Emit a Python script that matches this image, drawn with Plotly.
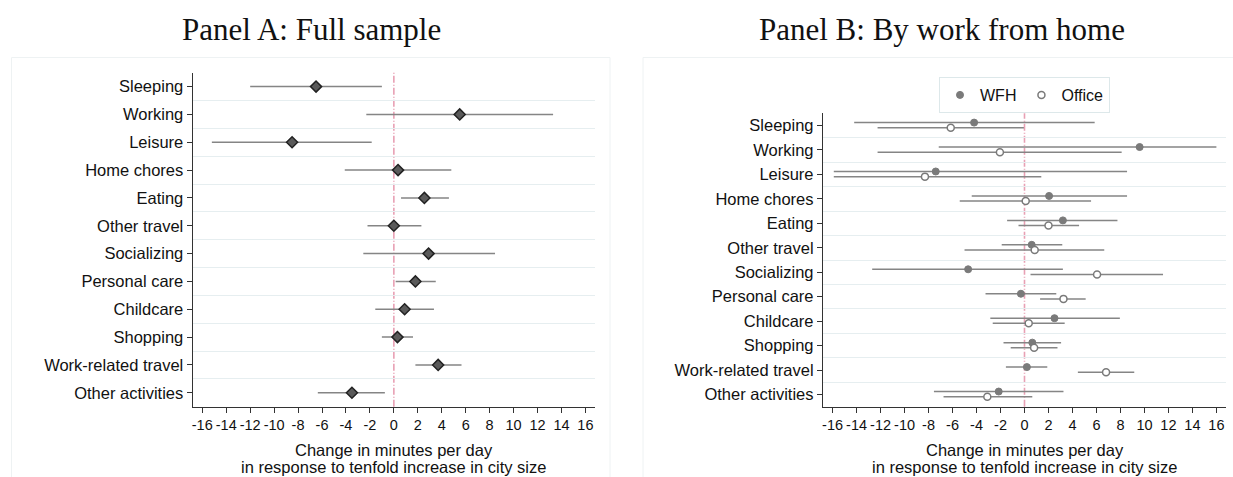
import plotly.graph_objects as go

W, H = 1233, 477

categories = ["Sleeping", "Working", "Leisure", "Home chores", "Eating", "Other travel",
              "Socializing", "Personal care", "Childcare", "Shopping",
              "Work-related travel", "Other activities"]

# Panel A: full sample
est_a = [-6.5, 5.5, -8.5, 0.35, 2.55, 0.0, 2.9, 1.8, 0.9, 0.3, 3.7, -3.5]
lo_a = [-12.0, -2.3, -15.2, -4.1, 0.6, -2.2, -2.55, 0.15, -1.55, -1.0, 1.8, -6.35]
hi_a = [-1.0, 13.3, -1.85, 4.8, 4.6, 2.3, 8.45, 3.5, 3.35, 1.6, 5.65, -0.75]

# Panel B: WFH
est_w = [-4.2, 9.6, -7.4, 2.05, 3.2, 0.6, -4.7, -0.3, 2.5, 0.65, 0.2, -2.15]
lo_w = [-14.2, -7.15, -15.9, -4.4, -1.45, -1.9, -12.7, -3.25, -2.85, -1.75, -1.55, -7.55]
hi_w = [5.85, 16.0, 8.55, 8.55, 7.75, 3.15, 3.2, 2.65, 7.95, 3.05, 1.9, 3.25]

# Panel B: Office
est_o = [-6.15, -2.05, -8.3, 0.1, 2.0, 0.85, 6.05, 3.25, 0.35, 0.8, 6.8, -3.1]
lo_o = [-12.25, -12.25, -15.9, -5.4, -0.5, -5.0, 0.5, 1.3, -2.65, -1.15, 4.45, -6.75]
hi_o = [-0.05, 8.1, 1.4, 5.55, 4.55, 6.65, 11.55, 5.1, 3.35, 2.75, 9.15, 0.65]

xticks = list(range(-16, 17, 2))

SANS = "Liberation Sans, Arial, sans-serif"
SERIF = "Liberation Serif, Times New Roman, serif"
CI_COLOR = "#858585"
GRID = "#e6eef0"
AXIS = "#333333"
PINK = "#e8a0b4"

pos = list(range(1, len(categories) + 1))


def px_x(p):
    return p / W


def px_y(p):
    return 1 - p / H


fig = go.Figure()

# Panel A
fig.add_trace(go.Scatter(
    x=est_a, y=pos, mode="markers", xaxis="x", yaxis="y", showlegend=False,
    marker=dict(symbol="diamond", size=8.5, color="#5a5a5a", line=dict(color="#222222", width=1.5)),
    error_x=dict(type="data", symmetric=False,
                 array=[h - e for h, e in zip(hi_a, est_a)],
                 arrayminus=[e - l for e, l in zip(est_a, lo_a)],
                 color=CI_COLOR, thickness=1.5, width=0),
))

off_w, off_o = -0.12, 0.09
fig.add_trace(go.Scatter(
    x=est_w, y=[p + off_w for p in pos], mode="markers", xaxis="x2", yaxis="y2", name="WFH",
    marker=dict(symbol="circle", size=7, color="#7a7a7a", line=dict(color="#7a7a7a", width=1)),
    error_x=dict(type="data", symmetric=False,
                 array=[h - e for h, e in zip(hi_w, est_w)],
                 arrayminus=[e - l for e, l in zip(est_w, lo_w)],
                 color=CI_COLOR, thickness=1.5, width=0),
))
fig.add_trace(go.Scatter(
    x=est_o, y=[p + off_o for p in pos], mode="markers", xaxis="x2", yaxis="y2", name="Office",
    marker=dict(symbol="circle", size=7, color="white", line=dict(color="#7a7a7a", width=1.5)),
    error_x=dict(type="data", symmetric=False,
                 array=[h - e for h, e in zip(hi_o, est_o)],
                 arrayminus=[e - l for e, l in zip(est_o, lo_o)],
                 color=CI_COLOR, thickness=1.5, width=0),
))

xa_common = dict(range=[-16.8, 16.8], tickmode="array", tickvals=xticks,
                 ticktext=[str(t) for t in xticks],
                 ticks="outside", ticklen=5, tickwidth=1.2, tickcolor=AXIS,
                 showline=True, linecolor=AXIS, linewidth=1.3,
                 showgrid=False, zeroline=False,
                 tickfont=dict(family=SANS, size=14.5, color="#111111"))
ya_common = dict(range=[12.5, 0.5], tickmode="array", tickvals=pos, ticktext=categories,
                 ticks="outside", ticklen=5, tickwidth=1.2, tickcolor=AXIS,
                 showline=True, linecolor=AXIS, linewidth=1.3,
                 showgrid=False, zeroline=False,
                 minor=dict(tickvals=[p + 0.5 for p in pos[:-1]], showgrid=True,
                            gridcolor=GRID, gridwidth=1, ticks=""),
                 tickfont=dict(family=SANS, size=16.5, color="#111111"))

a_left, a_right = 192.7, 595
b_left, b_right = 823, 1226
bottom = 406.7
a_top, b_top = 72.7, 113.3

fig.update_layout(
    width=W, height=H,
    margin=dict(l=0, r=0, t=0, b=0),
    paper_bgcolor="white", plot_bgcolor="white",
    xaxis=dict(domain=[px_x(a_left), px_x(a_right)], anchor="y", **xa_common),
    yaxis=dict(domain=[px_y(bottom), px_y(a_top)], anchor="x", **ya_common),
    xaxis2=dict(domain=[px_x(b_left), px_x(b_right)], anchor="y2", **xa_common),
    yaxis2=dict(domain=[px_y(bottom), px_y(b_top)], anchor="x2", **ya_common),
    legend=dict(orientation="h", x=px_x(1024.5), xanchor="center", y=px_y(77), yanchor="top",
                bgcolor="white", bordercolor="#dde8ea", borderwidth=1,
                font=dict(family=SANS, size=16, color="#111111"),
                itemwidth=30),
    shapes=[
        dict(type="rect", xref="paper", yref="paper", x0=px_x(11.5), x1=px_x(610),
             y0=-0.01, y1=px_y(57.5), line=dict(color="#eef2f3", width=1), layer="below"),
        dict(type="rect", xref="paper", yref="paper", x0=px_x(643), x1=1.01,
             y0=-0.01, y1=px_y(57.5), line=dict(color="#eef2f3", width=1), layer="below"),
        dict(type="line", xref="x", yref="paper", x0=0, x1=0, y0=px_y(bottom), y1=px_y(a_top),
             line=dict(color=PINK, width=1.6, dash="7px,2px,1px,2px"), layer="below"),
        dict(type="line", xref="x2", yref="paper", x0=0, x1=0, y0=px_y(bottom), y1=px_y(b_top),
             line=dict(color=PINK, width=1.6, dash="7px,2px,1px,2px"), layer="below"),
    ],
)

annos = [
    dict(text="Panel A: Full sample", x=px_x(311), y=px_y(30),
         font=dict(family=SERIF, size=31, color="#111111")),
    dict(text="Panel B: By work from home", x=px_x(942), y=px_y(30),
         font=dict(family=SERIF, size=31, color="#111111")),
]
for cx in [(a_left + a_right) / 2, (b_left + b_right) / 2]:
    annos.append(dict(text="Change in minutes per day", x=px_x(cx), y=px_y(450),
                      font=dict(family=SANS, size=16.5, color="#111111")))
    annos.append(dict(text="in response to tenfold increase in city size", x=px_x(cx), y=px_y(467),
                      font=dict(family=SANS, size=16.5, color="#111111")))
for a in annos:
    a.update(xref="paper", yref="paper", showarrow=False, xanchor="center", yanchor="middle")
fig.update_layout(annotations=annos)

fig.write_html("out.html", config={"displayModeBar": False},
               post_script="document.body.style.margin='0';document.body.style.padding='0';")
